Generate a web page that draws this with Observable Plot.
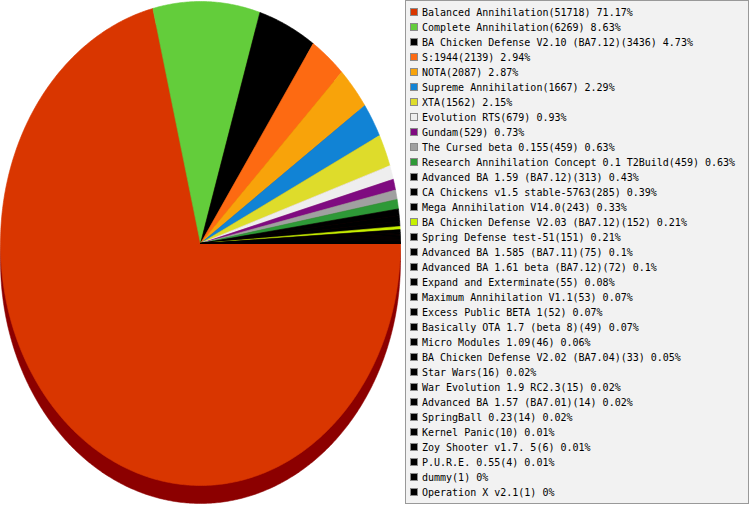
<!DOCTYPE html>
<html><head><meta charset="utf-8">
<script src="https://cdn.jsdelivr.net/npm/d3@7"></script>
<script src="https://cdn.jsdelivr.net/npm/@observablehq/plot@0.6"></script>
<style>
body{margin:0;background:#fff;}
#wrap{position:relative;width:749px;height:505px;overflow:hidden;}
#legend{position:absolute;left:405px;top:0;width:344px;height:504px;background:#f2f2f2;border:1px solid #999;box-sizing:border-box;font-family:"DejaVu Sans Mono",monospace;font-size:10px;color:#000;}
.sw{position:absolute;left:4px;width:8px;height:8px;border:1px solid #8a8a8a;box-sizing:border-box;}
.tx{position:absolute;left:16px;height:15px;line-height:15px;white-space:nowrap;}
</style>
</head><body>
<div id="wrap"><div id="chart"></div><div id="legend"></div></div>
<script>
const names = [
"Balanced Annihilation","Complete Annihilation","BA Chicken Defense V2.10 (BA7.12)","S:1944","NOTA",
"Supreme Annihilation","XTA","Evolution RTS","Gundam","The Cursed beta 0.155",
"Research Annihilation Concept 0.1 T2Build","Advanced BA 1.59 (BA7.12)","CA Chickens v1.5 stable-5763","Mega Annihilation V14.0","BA Chicken Defense V2.03 (BA7.12)",
"Spring Defense test-51","Advanced BA 1.585 (BA7.11)","Advanced BA 1.61 beta (BA7.12)","Expand and Exterminate","Maximum Annihilation V1.1",
"Excess Public BETA 1","Basically OTA 1.7 (beta 8)","Micro Modules 1.09","BA Chicken Defense V2.02 (BA7.04)","Star Wars",
"War Evolution 1.9 RC2.3","Advanced BA 1.57 (BA7.01)","SpringBall 0.23","Kernel Panic","Zoy Shooter v1.7. 5",
"P.U.R.E. 0.55","dummy","Operation X v2.1"];
const counts = [51718,6269,3436,2139,2087,1667,1562,679,529,459,459,313,285,243,152,151,75,72,55,53,52,49,46,33,16,15,14,14,10,6,4,1,1];
const colors = ["#d93600","#63cd3b","#000000","#fd6a12","#f8a30a","#1183d5","#dedc2b","#eeeeee","#7f0b80","#a0a0a0",
"#2e9937","#000000","#000000","#000000","#c6f000","#000000","#000000","#000000","#000000","#000000",
"#000000","#000000","#000000","#000000","#000000","#000000","#000000","#000000","#000000","#000000",
"#000000","#000000","#000000"];
const shadowColor = "#8c0000";

const total = d3.sum(counts);
const cx = 200, cy = 243, rx = 200, ry = 242, depth = 18;
const arcs = d3.pie().sort(null).value(d => d)(counts);
const pts = [];
arcs.forEach((a, i) => {
  pts.push({i, x: cx, y: cy});
  const n = Math.max(2, Math.ceil((a.endAngle - a.startAngle) / (Math.PI / 360)));
  for (let k = 0; k <= n; k++) {
    const t = a.startAngle + (a.endAngle - a.startAngle) * k / n;
    pts.push({i, x: cx + rx * Math.cos(t), y: cy + ry * Math.sin(t)});
  }
  pts.push({i, x: cx, y: cy});
});
const shadow = d3.range(0, 721).map(k => {
  const t = k / 720 * 2 * Math.PI;
  return {x: cx + rx * Math.cos(t), y: cy + depth + ry * Math.sin(t)};
});

const chart = Plot.plot({
  width: 749, height: 505, margin: 0,
  x: {domain: [0, 749], range: [0, 749], axis: null},
  y: {domain: [0, 505], range: [0, 505], axis: null},
  color: {type: "identity"},
  marks: [
    Plot.line(shadow, {x: "x", y: "y", fill: shadowColor, stroke: shadowColor, strokeWidth: 0.5}),
    Plot.line(pts, {x: "x", y: "y", z: "i", fill: d => colors[d.i], stroke: d => colors[d.i], strokeWidth: 0.6, curve: "linear"})
  ]
});
document.getElementById("chart").appendChild(chart);

const fmt = v => String(+(v * 100 / total).toFixed(2));
const legend = document.getElementById("legend");
names.forEach((nm, i) => {
  const cyRow = 12 + 15 * i - 1;
  const sw = document.createElement("div");
  sw.className = "sw";
  sw.style.top = (cyRow - 4) + "px";
  sw.style.background = colors[i];
  legend.appendChild(sw);
  const tx = document.createElement("div");
  tx.className = "tx";
  tx.style.top = (cyRow - 7.5) + "px";
  tx.textContent = `${nm}(${counts[i]}) ${fmt(counts[i])}%`;
  legend.appendChild(tx);
});
</script>
</body></html>
